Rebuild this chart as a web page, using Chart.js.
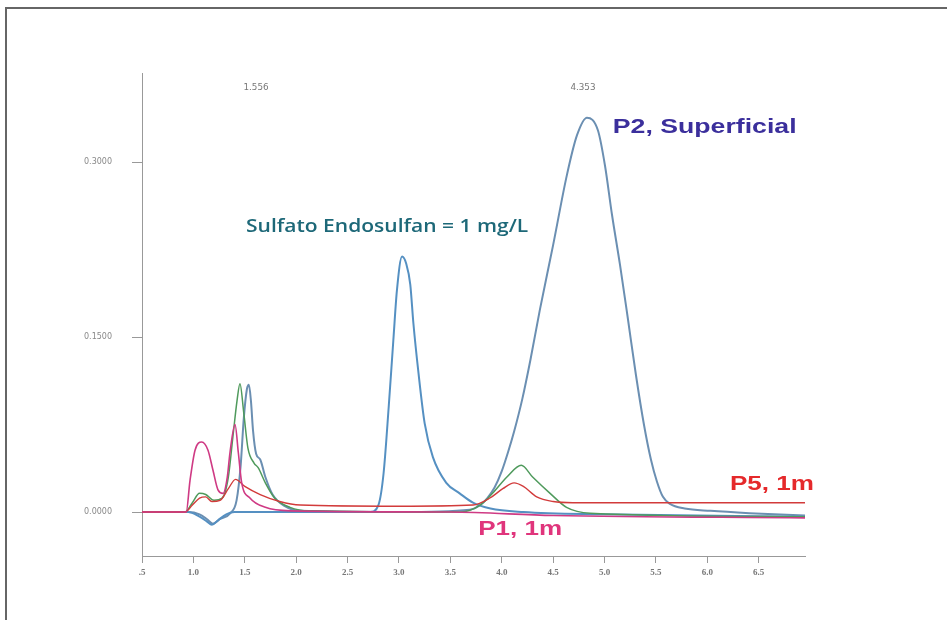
<!DOCTYPE html>
<html>
<head>
<meta charset="utf-8">
<title>Cromatograma - Sulfato Endosulfan</title>
<script src="https://cdn.jsdelivr.net/npm/chart.js@4.4.1/dist/chart.umd.min.js"></script>
<style>
    html, body { margin: 0; padding: 0; background: #fff; overflow: hidden; }
    .wrap { position: relative; width: 947px; height: 620px; }
    .frame {
        position: absolute; left: 5px; top: 7px; width: 1200px; height: 900px;
        border-left: 2px solid #666; border-top: 2px solid #666;
        pointer-events: none;
    }
    canvas { position: absolute; left: 0; top: 0; }
</style>
</head>
<body>
<div class="wrap">
    <canvas id="chartCrom" width="947" height="620"></canvas>
    <div class="frame"></div>
</div>
<script>
/* ── Data (time in min, absorbance) ── */
const xTickValues = [0.5, 1.0, 1.5, 2.0, 2.5, 3.0, 3.5, 4.0, 4.5, 5.0, 5.5, 6.0, 6.5];
const yTickValues = [0, 0.15, 0.30];

// Standard, sulfato endosulfan 1 mg/L
const stdTime  = [0.5, 0.95, 1.06, 1.13, 1.18, 1.24, 1.32, 1.40, 2.0, 2.72, 2.80, 2.85, 2.90, 2.945, 2.98, 3.03, 3.07, 3.11, 3.14, 3.19, 3.25, 3.33, 3.46, 3.59, 3.72, 3.89, 4.21, 4.96, 6.95];
const stdValue = [0, 0, -0.004, -0.008, -0.011, -0.007, -0.002, 0, 0, 0, 0.006, 0.033, 0.090, 0.147, 0.190, 0.219, 0.213, 0.195, 0.162, 0.119, 0.076, 0.047, 0.025, 0.016, 0.008, 0.003, 0, -0.002, -0.004];

// P2, superficial
const p2Time  = [0.5, 0.95, 1.06, 1.13, 1.19, 1.26, 1.36, 1.42, 1.46, 1.49, 1.52, 1.54, 1.56, 1.58, 1.61, 1.65, 1.70, 1.77, 1.89, 2.04, 3.0, 3.69, 3.79, 3.86, 3.93, 4.00, 4.06, 4.12, 4.20, 4.28, 4.37, 4.50, 4.634, 4.732, 4.829, 4.936, 5.004, 5.072, 5.15, 5.228, 5.306, 5.383, 5.451, 5.51, 5.568, 5.636, 5.78, 6.03, 6.41, 6.95];
const p2Value = [0, 0, -0.002, -0.006, -0.010, -0.006, -0.001, 0.010, 0.040, 0.080, 0.105, 0.109, 0.095, 0.070, 0.050, 0.045, 0.030, 0.015, 0.005, 0.001, 0, 0.002, 0.006, 0.012, 0.021, 0.035, 0.051, 0.069, 0.097, 0.131, 0.173, 0.229, 0.289, 0.323, 0.338, 0.327, 0.297, 0.255, 0.212, 0.165, 0.117, 0.075, 0.045, 0.026, 0.013, 0.007, 0.003, 0.001, -0.001, -0.003];

// third sample (green trace)
const greenTime  = [0.5, 0.92, 0.99, 1.06, 1.12, 1.20, 1.28, 1.34, 1.385, 1.424, 1.453, 1.49, 1.53, 1.59, 1.63, 1.70, 1.79, 1.94, 2.13, 3.59, 3.79, 3.91, 4.05, 4.19, 4.30, 4.47, 4.63, 4.86, 6.95];
const greenValue = [0, 0, 0.008, 0.016, 0.015, 0.010, 0.012, 0.030, 0.065, 0.095, 0.110, 0.085, 0.055, 0.042, 0.038, 0.025, 0.012, 0.004, 0.001, 0, 0.006, 0.016, 0.030, 0.040, 0.030, 0.016, 0.004, -0.001, -0.004];

// P1, 1m
const p1Time  = [0.5, 0.93, 0.967, 1.016, 1.081, 1.142, 1.19, 1.239, 1.288, 1.33, 1.356, 1.405, 1.437, 1.47, 1.55, 1.70, 1.94, 3.5, 4.5, 6.95];
const p1Value = [0, 0, 0.027, 0.053, 0.060, 0.053, 0.036, 0.019, 0.016, 0.030, 0.051, 0.075, 0.051, 0.025, 0.012, 0.004, 0.001, 0, -0.003, -0.005];

// P5, 1m
const p5Time  = [0.5, 0.92, 0.99, 1.06, 1.12, 1.18, 1.26, 1.34, 1.41, 1.50, 1.65, 1.84, 2.04, 3.0, 3.72, 3.885, 4.01, 4.12, 4.21, 4.34, 4.50, 4.69, 6.95];
const p5Value = [0, 0, 0.006, 0.012, 0.013, 0.009, 0.010, 0.020, 0.028, 0.022, 0.015, 0.009, 0.006, 0.005, 0.006, 0.012, 0.020, 0.025, 0.022, 0.013, 0.009, 0.008, 0.008];

(function () {
    'use strict';

    function toPoints(times, values) {
        return times.map((t, i) => ({ x: t, y: values[i] }));
    }

    function series(label, times, values, color, width) {
        return {
            label: label,
            data: toPoints(times, values),
            borderColor: color,
            borderWidth: width,
            pointRadius: 0,
            fill: false,
            cubicInterpolationMode: 'monotone',
        };
    }

    /* ── text notes drawn on the plot (the scan is stretched sideways, so is the text) ── */
    const notes = [
        { text: 'Sulfato Endosulfan = 1 mg/L', t: 1.512, v: 0.240, font: '600 17.5px "Open Sans"', color: '#1d6878', align: 'left', stretch: 1.2 },
        { text: 'P2, Superficial', t: 5.08, v: 0.325, font: 'bold 21px "Liberation Sans"', color: '#3b2f9c', align: 'left', stretch: 1.27 },
        { text: 'P5, 1m', t: 6.22, v: 0.0189, font: 'bold 21px "Liberation Sans"', color: '#e5292b', align: 'left', stretch: 1.24 },
        { text: 'P1, 1m', t: 3.77, v: -0.0197, font: 'bold 21px "Liberation Sans"', color: '#e0357c', align: 'left', stretch: 1.24 },
        { text: '1.556', t: 1.609, v: 0.362, font: '8px "DejaVu Sans"', color: '#777', align: 'center', stretch: 1.1 },
        { text: '4.353', t: 4.79, v: 0.362, font: '8px "DejaVu Sans"', color: '#777', align: 'center', stretch: 1.1 },
    ];

    const notesPlugin = {
        id: 'notes',
        afterDatasetsDraw(chart) {
            const ctx = chart.ctx;
            const xs = chart.scales.x;
            const ys = chart.scales.y;
            notes.forEach((n) => {
                ctx.save();
                ctx.translate(xs.getPixelForValue(n.t), ys.getPixelForValue(n.v));
                ctx.scale(n.stretch, 1);
                ctx.font = n.font;
                ctx.fillStyle = n.color;
                ctx.textAlign = n.align;
                ctx.textBaseline = 'alphabetic';
                ctx.fillText(n.text, 0, 0);
                ctx.restore();
            });
        },
    };

    function initChart() {
        const el = document.getElementById('chartCrom');
        if (!el) return;

        new Chart(el, {
            type: 'line',
            data: {
                datasets: [
                    series('P1, 1m', p1Time, p1Value, '#cf3a84', 1.6),
                    series('P5, 1m', p5Time, p5Value, '#d23b3b', 1.4),
                    series('Muestra', greenTime, greenValue, '#4f9a5c', 1.5),
                    series('Sulfato Endosulfan = 1 mg/L', stdTime, stdValue, '#5590c2', 2),
                    series('P2, Superficial', p2Time, p2Value, '#6b8fb2', 2),
                ],
            },
            options: {
                responsive: false,
                animation: false,
                layout: { padding: { left: 0, right: 142, top: 73, bottom: 0 } },
                plugins: {
                    legend: { display: false },
                    tooltip: { enabled: false },
                },
                scales: {
                    x: {
                        type: 'linear',
                        min: 0.5,
                        max: 6.95,
                        afterBuildTicks: (s) => { s.ticks = xTickValues.map((v) => ({ value: v })); },
                        afterFit: (s) => { s.height = 64; },
                        ticks: {
                            callback: (v) => (v === 0.5 ? '.5' : v.toFixed(1)),
                            font: { family: 'Liberation Serif', size: 9, weight: 'bold' },
                            color: '#777',
                            padding: 4,
                            maxRotation: 0,
                        },
                        grid: { drawOnChartArea: false, tickLength: 7, color: '#999' },
                        border: { color: '#999', width: 1 },
                    },
                    y: {
                        min: -0.0377,
                        max: 0.3763,
                        afterBuildTicks: (s) => { s.ticks = yTickValues.map((v) => ({ value: v })); },
                        afterFit: (s) => { s.width = 142; },
                        ticks: {
                            callback: (v) => v.toFixed(4),
                            font: { family: 'DejaVu Sans', size: 8 },
                            color: '#888',
                            padding: 20,
                        },
                        grid: { drawOnChartArea: false, tickLength: 10, color: '#999' },
                        border: { color: '#999', width: 1 },
                    },
                },
            },
            plugins: [notesPlugin],
        });
    }

    if (document.readyState === 'loading') {
        document.addEventListener('DOMContentLoaded', initChart);
    } else {
        initChart();
    }
})();
</script>
</body>
</html>
